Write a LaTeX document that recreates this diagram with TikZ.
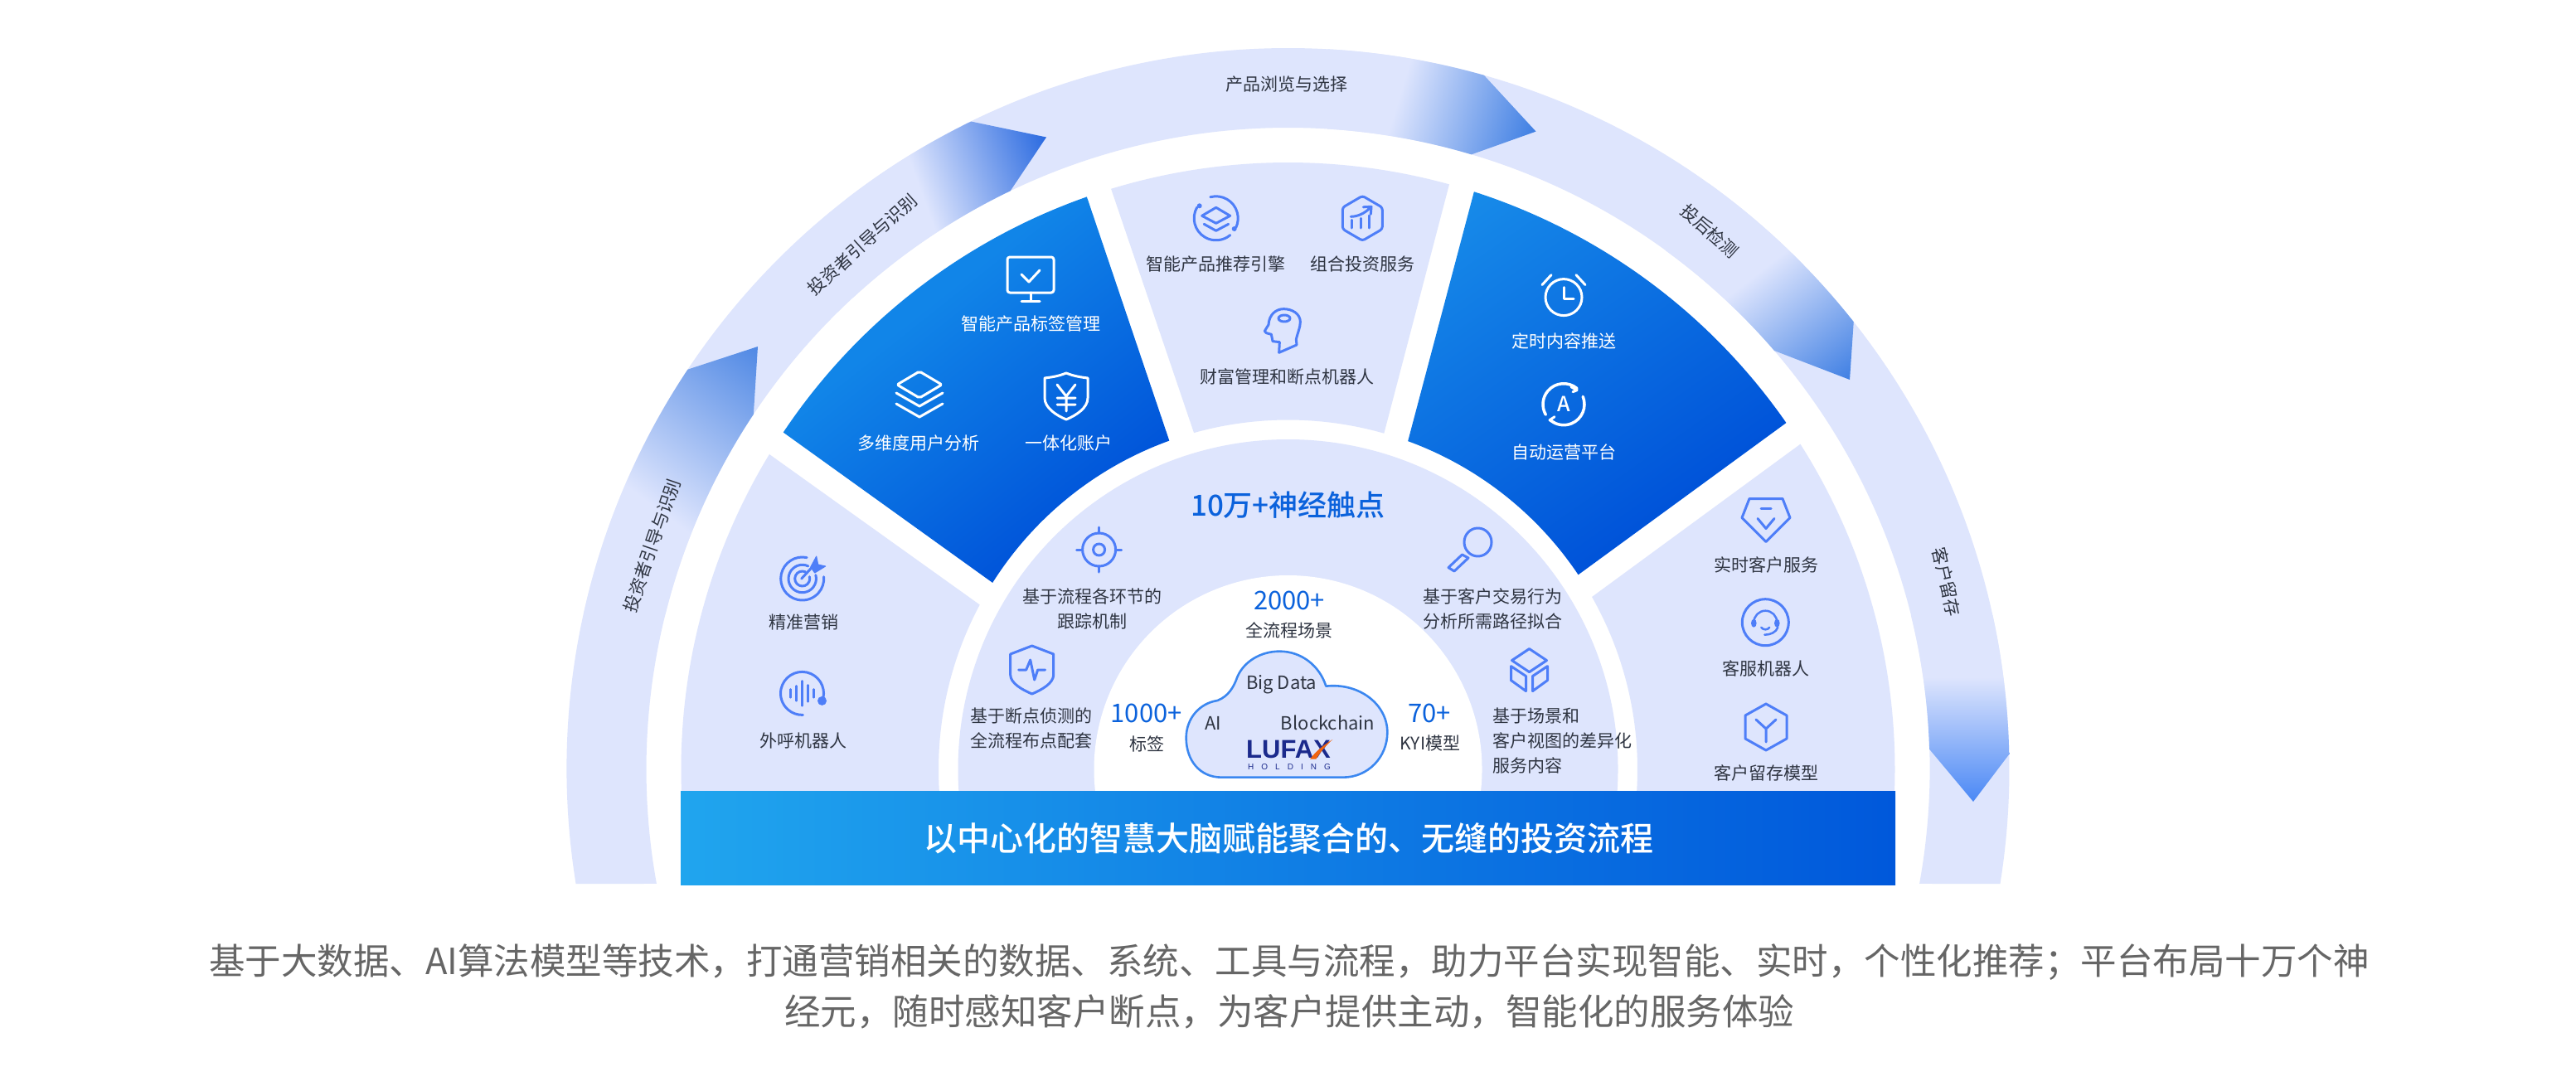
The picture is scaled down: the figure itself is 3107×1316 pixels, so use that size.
\documentclass[tikz,border=0pt]{standalone}
\usepackage{fontspec}
\usepackage{graphicx}
\setmainfont{Noto Sans CJK SC}
\newfontfamily\medfont{Noto Sans CJK SC Medium}
\newfontfamily\logofont{Liberation Sans}
\newfontfamily\holdfont[LetterSpace=90]{Liberation Sans}
\definecolor{ringc}{HTML}{DEE5FD}
\definecolor{inkc}{HTML}{2F3542}
\definecolor{blue1}{HTML}{0B62DC}
\definecolor{iconc}{HTML}{4E7EF8}
\definecolor{greyc}{HTML}{666666}
\definecolor{navyc}{HTML}{1B2A8C}
\definecolor{orangec}{HTML}{F0640F}
\definecolor{headA}{HTML}{3F7FE3}
\definecolor{headB}{HTML}{2A6AE0}
\definecolor{headC}{HTML}{4A88F5}
\definecolor{headD}{HTML}{4F88E4}
\definecolor{wedgeA}{HTML}{1185E8}
\definecolor{wedgeB}{HTML}{178BE9}
\definecolor{wedgeC}{HTML}{0053D9}
\definecolor{bandA}{HTML}{20A5EE}
\definecolor{bandB}{HTML}{0058DB}
\definecolor{cloudc}{HTML}{3B87F0}
\pgfdeclarehorizontalshading{shA}{100bp}{color(0bp)=(ringc); color(37.5bp)=(ringc); color(62.5bp)=(headA); color(100bp)=(headA)}
\pgfdeclarehorizontalshading{shB}{100bp}{color(0bp)=(ringc); color(37.5bp)=(ringc); color(62.5bp)=(headB); color(100bp)=(headB)}
\pgfdeclarehorizontalshading{shC}{100bp}{color(0bp)=(ringc); color(37.5bp)=(ringc); color(62.5bp)=(headC); color(100bp)=(headC)}
\pgfdeclarehorizontalshading{shD}{100bp}{color(0bp)=(ringc); color(37.5bp)=(ringc); color(62.5bp)=(headD); color(100bp)=(headD)}
\pgfdeclarehorizontalshading{shW}{100bp}{color(0bp)=(wedgeA); color(37.5bp)=(wedgeA); color(62.5bp)=(wedgeC); color(100bp)=(wedgeC)}
\pgfdeclarehorizontalshading{shV}{100bp}{color(0bp)=(wedgeB); color(37.5bp)=(wedgeB); color(62.5bp)=(wedgeC); color(100bp)=(wedgeC)}
\newcommand\pol[2]{([shift={(#1:#2pt)}]C)}
\newcommand\sect[6]{\pol{#2}{#1} arc[start angle=#2,end angle=#3,radius=#1pt] -- \pol{#5}{#4} arc[start angle=#5,end angle=#6,radius=#4pt] -- cycle}
\newcommand\gfill[5]{\shade[shading=#5,shading angle=#4] ({#1-#3},{#2-#3}) rectangle ({#1+#3},{#2+#3});}
\newcommand\headpath[4]{\pol{#1}{870} arc[start angle=#1,end angle=#2,radius=870pt] -- (#4) -- \pol{#3}{774} arc[start angle=#3,end angle=#1,radius=774pt] -- cycle}
\tikzset{
 lbl/.style={font=\fontsize{21}{30}\selectfont,text=inkc,inner sep=0pt,align=center},
 wlbl/.style={lbl,text=white},
 num/.style={font=\fontsize{31}{36}\selectfont,text=blue1,inner sep=0pt},
 iconb/.style={draw=iconc,line width=3pt,line join=round,line cap=round},
 iconw/.style={draw=white,line width=3pt,line join=round,line cap=round},
}
\begin{document}
\begin{tikzpicture}[x=1pt,y=-1pt]
\useasboundingbox (0,0) rectangle (3107,1316);
\fill[white] (0,0) rectangle (3107,1316);
\coordinate (C) at (1553.5,928);
% outer ring
\fill[ringc] \sect{870}{189.13}{-9.13}{774}{-10.27}{190.27};
\coordinate (t1) at (914,418);
\coordinate (t2) at (1262,165.5);
\coordinate (t3) at (1852.5,158.6);
\coordinate (t4) at (2231,458);
\coordinate (t5) at (2380,967);
\begin{scope}\clip \headpath{172}{146.33}{146.4}{t1}; \gfill{845}{510}{230}{53}{shD}\end{scope}
\begin{scope}\clip \headpath{138}{116.07}{115.64}{t2}; \gfill{1184.5}{193.5}{165}{20}{shB}\end{scope}
\begin{scope}\clip \headpath{95}{74.23}{73.39}{t3}; \gfill{1771}{133}{170}{-17}{shA}\end{scope}
\begin{scope}\clip \headpath{62}{38.35}{40.73}{t4}; \gfill{2179}{391}{170}{-52}{shA}\end{scope}
\begin{scope}\clip \headpath{20}{1.2}{1.8}{t5}; \gfill{2380}{892}{150}{-90}{shC}\end{scope}
% panels
\fill[ringc] \sect{732}{148.72}{182.04}{421.5}{183.54}{151.9};
\fill[ringc] \sect{732}{106.95}{74.59}{421.5}{74.05}{105.62};
\fill[ringc] \sect{732}{32.41}{-2.04}{421.5}{-3.54}{29.57};
\begin{scope}\clip \sect{732}{146.27}{109.36}{421.5}{109.86}{147.72}; \gfill{1190}{515}{320}{-51.6}{shW}\end{scope}
\begin{scope}\clip \sect{732}{72.15}{34.82}{421.5}{33.84}{69.93}; \gfill{1900}{420}{452}{-55}{shV}\end{scope}
% hub
\fill[ringc] \pol{-4}{398} arc[start angle=-4,end angle=184,radius=398pt] -- cycle;
\fill[white] \pol{-7}{234} arc[start angle=-7,end angle=187,radius=234pt] -- cycle;
% band
\shade[left color=bandA,right color=bandB] (821,954) rectangle (2286,1067.5);
\node[inner sep=0pt,text=white,font=\fontsize{40}{48}\selectfont\medfont] (bandt) at (1554.5,1011) {以中心化的智慧大脑赋能聚合的、无缝的投资流程};
% ring labels
\node[lbl] (r1) at (1552,102) {产品浏览与选择};
\node[lbl,rotate=42] (r2) at (1040,295) {投资者引导与识别};
\node[lbl,rotate=71] (r3) at (786,658) {投资者引导与识别};
\node[lbl,rotate=-42] (r4) at (2062,278.5) {投后检测};
\node[lbl,rotate=-77] (r5) at (2348,702) {客户留存};
% left wedge labels
\node[wlbl] (a1) at (1243,391) {智能产品标签管理};
\node[wlbl] (a2) at (1108,534.5) {多维度用户分析};
\node[wlbl] (a3) at (1289,534.5) {一体化账户};
\node[lbl] (b1) at (1466,319) {智能产品推荐引擎};
\node[lbl] (b2) at (1643,319) {组合投资服务};
\node[lbl] (b3) at (1552,454) {财富管理和断点机器人};
\node[wlbl] (c1) at (1886,411.6) {定时内容推送};
\node[wlbl] (c2) at (1886,546) {自动运营平台};
\node[lbl] (d1) at (969,751) {精准营销};
\node[lbl] (d2) at (969,893.6) {外呼机器人};
\node[lbl] (e1) at (2130,681) {实时客户服务};
\node[lbl] (e2) at (2130,806) {客服机器人};
\node[lbl] (e3) at (2130,932) {客户留存模型};
% mid ring
\node[inner sep=0pt,text=blue1,font=\fontsize{35}{40}\selectfont\medfont] (m0) at (1553.5,609) {10万+神经触点};
\node[lbl] (m1) at (1317,734) {基于流程各环节的\\跟踪机制};
\node[lbl] (m2) at (1244,878) {基于断点侦测的\\全流程布点配套};
\node[lbl] (m3) at (1800,734) {基于客户交易行为\\分析所需路径拟合};
\node[lbl,align=left,anchor=west] (m4) at (1800,893.6) {基于场景和\\客户视图的差异化\\服务内容};
% hub labels
\node[num] (h1) at (1555,724) {2000+};
\node[lbl] (h2) at (1555,760) {全流程场景};
\node[num] (h3) at (1382.7,860) {1000+};
\node[lbl] (h4) at (1383,897) {标签};
\node[num] (h5) at (1724,860) {70+};
\node[lbl] (h6) at (1725,897) {KYI模型};
% cloud
\begin{scope}[shift={(1300,760)},x=0.33333pt,y=-0.33333pt]
\draw[fill=ringc,draw=cloudc,line width=2.6pt,line join=round] (505,255) .. controls (545,240) and (565,205) .. (577,170) .. controls (600,115) and (660,77) .. (730,77) .. controls (810,77) and (875,130) .. (898,203) .. controls (1020,190) and (1120,270) .. (1120,370) .. controls (1120,460) and (1050,533) .. (960,533) -- (520,533) .. controls (440,533) and (392,470) .. (392,390) .. controls (392,320) and (440,265) .. (505,255) -- cycle;
\node[lbl,font=\fontsize{22}{30}\selectfont] (k1) at (737,197) {Big Data};
\node[lbl,font=\fontsize{22}{30}\selectfont] (k2) at (490,337) {AI};
\node[lbl,font=\fontsize{22}{30}\selectfont] (k3) at (905,337) {Blockchain};
\node[inner sep=0pt,text=navyc,font=\logofont\fontsize{31}{31}\selectfont\bfseries] (k4) at (762,432) {LUFAX};
\node[inner sep=0pt,text=navyc,font=\holdfont\fontsize{10}{10}\selectfont] (k5) at (765,495) {HOLDING};
\fill[orangec] (922,396) .. controls (890,415) and (860,440) .. (840,467) -- (862,467) .. controls (875,445) and (895,420) .. (922,396) -- cycle;
\end{scope}
% bottom text
\node[inner sep=0pt,text=greyc,font=\fontsize{43.5}{61}\selectfont,align=center] (foot) at (1555,1190) {基于大数据、AI算法模型等技术，打通营销相关的数据、系统、工具与流程，助力平台实现智能、实时，个性化推荐；平台布局十万个神\\经元，随时感知客户断点，为客户提供主动，智能化的服务体验};
% icons white
\begin{scope}[shift={(1243,336)},iconw]
\draw[rounded corners=3pt] (-28,-26) rectangle (28,17);
\draw (0,17) -- (0,26) (-11,27) -- (11,27);
\draw (-11,-5) -- (-2,4) -- (11,-10);
\end{scope}
\begin{scope}[shift={(1109,475)},iconw]
\draw[rounded corners=2pt] (0,-27) -- (27,-11) -- (0,5) -- (-27,-11) -- cycle;
\draw (-28,-1) -- (0,15) -- (28,-1);
\draw (-28,12) -- (0,28) -- (28,12);
\end{scope}
\begin{scope}[shift={(1286,478)},iconw]
\draw (0,-28) .. controls (10,-24) and (18,-23) .. (26,-22) -- (26,2) .. controls (26,14) and (12,23) .. (0,28) .. controls (-12,23) and (-26,14) .. (-26,2) -- (-26,-22) .. controls (-18,-23) and (-10,-24) .. (0,-28) -- cycle;
\draw (-11,-14) -- (0,0) -- (11,-14) (0,0) -- (0,18) (-11,2) -- (11,2) (-11,10) -- (11,10);
\end{scope}
\begin{scope}[shift={(1886,358.6)},iconw]
\draw (0,0) circle[radius=22pt];
\draw (-26,-15) -- (-15,-27) (26,-15) -- (15,-27);
\draw (0,-12) -- (0,2) -- (12,2);
\end{scope}
\begin{scope}[shift={(1886,487.7)},iconw]
\draw[line width=3.5pt] (50:25pt) arc[start angle=50,end angle=210,radius=25pt];
\draw[line width=3.5pt] (22:25pt) arc[start angle=22,end angle=-130,radius=25pt];
\draw (9,-21) -- (16,-17) -- (11,-15);
\draw (-11,15) -- (-17,19) -- (-11,22);
\node[inner sep=0pt,text=white,font=\fontsize{25}{25}\selectfont\medfont] (ia) at (0,0) {A};
\end{scope}
% icons blue
\begin{scope}[shift={(1466.7,263.3)},iconb]
\draw (105:26.5pt) arc[start angle=105,end angle=-25,radius=26.5pt];
\draw (150:26.5pt) arc[start angle=150,end angle=310,radius=26.5pt];
\fill[iconc,draw=none] (-20,-15) circle[radius=3pt] (22,12.7) circle[radius=3pt];
\draw (0,-13) -- (17,-3) -- (0,6) -- (-17,-3) -- cycle;
\draw (-14.5,7) -- (0,15) -- (15,7);
\end{scope}
\begin{scope}[shift={(1643.3,263.3)},iconb]
\draw[rounded corners=3pt] (0,-27) -- (24,-13) -- (24,13) -- (0,27) -- (-24,13) -- (-24,-13) -- cycle;
\draw (-12.7,11.7) -- (-12.7,2) (-1.7,11.7) -- (-1.7,0) (8.3,11.7) -- (8.3,-3.3);
\draw (-14,-2) .. controls (-6,-2) and (3,-6) .. (9,-12.5) (1,-13.5) -- (10.7,-14) -- (10,-5);
\end{scope}
\begin{scope}[shift={(1500,360)},x=0.33333pt,y=-0.33333pt,iconb]
\draw (128,196) -- (192,168) -- (190,148) .. controls (195,125) and (205,105) .. (205,85) .. controls (205,55) and (175,38) .. (145,38) .. controls (115,38) and (92,60) .. (90,95) -- (76,118) -- (82,125) -- (100,130) -- (105,155) -- (130,158) -- cycle;
\draw (147,72) ellipse[x radius=7pt,y radius=4pt];
\end{scope}
\begin{scope}[shift={(967.7,698)},iconb]
\draw (78:26pt) arc[start angle=78,end angle=365,radius=26pt];
\draw (65:16.7pt) arc[start angle=65,end angle=375,radius=16.7pt];
\draw (65:9pt) arc[start angle=65,end angle=375,radius=9pt];
\draw (-1,0) -- (11,-13);
\fill[iconc,draw=iconc,line width=1pt,line join=round] (10,-14) -- (17,-27) -- (19,-17) -- (28,-15) -- (15,-7) -- cycle;
\end{scope}
\begin{scope}[shift={(967.5,836.4)},iconb]
\draw (-12:26pt) arc[start angle=-12,end angle=272,radius=26pt];
\fill[iconc,draw=none] (24,9) circle[radius=5.5pt];
\draw[line width=2.5pt] (-14,-5) -- (-14,5) (-7,-9) -- (-7,9) (0,-15) -- (0,15) (7,-10) -- (7,10) (14,-5) -- (14,5);
\end{scope}
\begin{scope}[shift={(1325.6,663)},iconb]
\draw (0,0) circle[radius=20pt] (0,0) circle[radius=7pt];
\draw (0,-27) -- (0,-20) (0,20) -- (0,27) (-27,0) -- (-20,0) (20,0) -- (27,0);
\end{scope}
\begin{scope}[shift={(1244.7,808)},iconb]
\draw (0,-29) -- (26,-19) -- (26,6) .. controls (26,16) and (12,24) .. (0,29) .. controls (-12,24) and (-26,16) .. (-26,6) -- (-26,-19) -- cycle;
\draw (-16,0) -- (-7,0) -- (-2,-12) -- (3,12) -- (7,0) -- (16,0);
\end{scope}
\begin{scope}[shift={(1774,663)},iconb]
\draw (8.5,-9) ellipse[x radius=16.5pt,y radius=17pt];
\draw (-10.5,6) -- (-3,10) -- (-20,26) -- (-27,21.6) -- cycle;
\end{scope}
\begin{scope}[shift={(1844.5,808.6)},iconb]
\draw (0,-26) -- (21,-12) -- (0,2) -- (-21,-12) -- cycle;
\draw (-22,-5) -- (-4,7) -- (-4,25) -- (-22,12) -- cycle;
\draw (22,-5) -- (4,7) -- (4,25) -- (22,12) -- cycle;
\end{scope}
\begin{scope}[shift={(2130,627.5)},iconb]
\draw (-20,-26) -- (20,-26) -- (29,-3) -- (0,26) -- (-29,-3) -- cycle;
\draw (-6,-14) -- (6,-14);
\draw (-10,-2) -- (0,10) -- (10,-2);
\end{scope}
\begin{scope}[shift={(2129.3,750.7)},iconb]
\draw (0,0) circle[radius=28pt];
\draw[line width=2.5pt] (180:14pt) arc[start angle=180,end angle=0,radius=14pt];
\fill[iconc,draw=none] (-14,1) ellipse[x radius=3.3pt,y radius=5pt] (14,1) ellipse[x radius=3.3pt,y radius=5pt];
\draw[line width=2.5pt] (-5,6) .. controls (-3,9.5) and (3,9.5) .. (5,6);
\draw[line width=2.5pt] (15,6) .. controls (13,12) and (6,15) .. (-1,15);
\end{scope}
\begin{scope}[shift={(2130,877)},iconb]
\draw (0,-28) -- (25,-14) -- (25,14) -- (0,28) -- (-25,14) -- (-25,-14) -- cycle;
\draw (-12,-9) -- (0,2) -- (12,-9) (0,2) -- (0,18);
\end{scope}
\end{tikzpicture}
\end{document}
